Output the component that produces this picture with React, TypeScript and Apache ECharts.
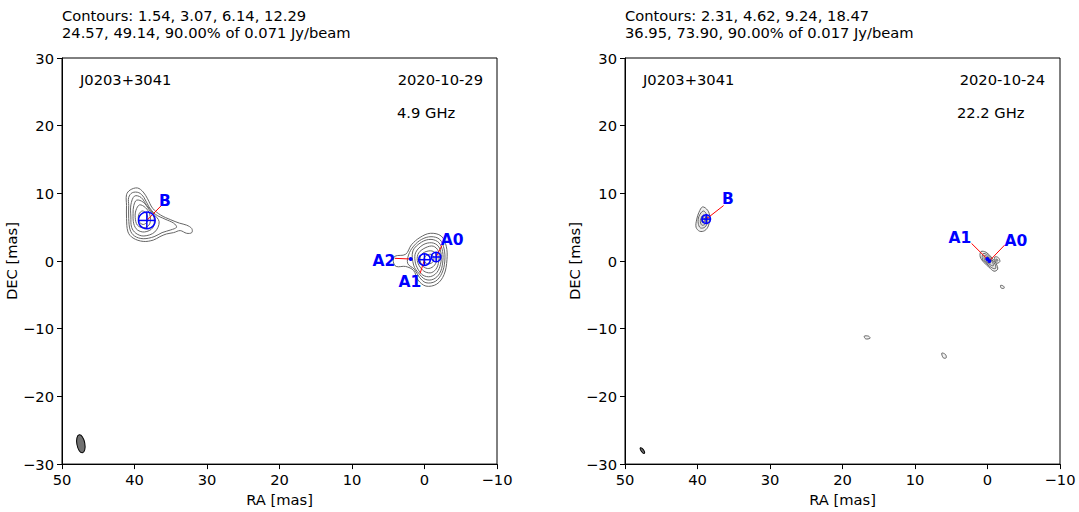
import React, { useEffect, useRef } from 'react';
import * as echarts from 'echarts';

// ---- contour lines (RA, DEC in mas) ----
const leftB1 = [[40.6,10.5],[39.6,10.8],[38.8,10.2],[38.2,9.2],[37.5,7.8],[36.4,6.8],[35.0,6.1],[33.8,5.6],[32.8,5.3],[32.1,4.8],[32.1,4.2],[32.8,4.1],[33.7,4.5],[34.6,4.2],[35.6,4.0],[36.5,3.6],[37.4,3.1],[38.8,2.9],[40.2,3.4],[40.9,4.3],[41.1,6.3],[41.1,8.2],[41.1,9.8]];
const leftB2 = [[40.3,10.1],[39.4,10.1],[38.7,9.4],[38.0,8.0],[37.1,6.9],[35.8,6.2],[34.6,5.6],[34.2,5.0],[35.0,4.6],[36.2,4.2],[37.3,3.6],[38.8,3.3],[40.0,3.7],[40.6,4.6],[40.8,6.3],[40.8,8.2],[40.8,9.4]];
const leftB3 = [[40.0,9.6],[39.1,9.4],[38.3,8.2],[37.4,7.0],[36.6,5.8],[37.2,4.3],[38.7,3.7],[39.8,4.1],[40.4,5.0],[40.5,6.5],[40.5,8.3]];
const leftB4 = [[39.7,9.0],[38.8,8.7],[38.0,7.6],[37.3,6.4],[37.5,4.9],[38.6,4.3],[39.6,4.6],[40.1,5.5],[40.2,7.0],[40.1,8.2]];
const leftB5 = [[39.3,8.3],[38.5,7.9],[37.9,6.9],[37.9,5.5],[38.7,4.9],[39.6,5.3],[39.9,6.4],[39.8,7.5]];
const leftB6 = [[38.9,7.4],[38.3,6.9],[38.2,5.9],[38.8,5.4],[39.4,5.9],[39.4,6.9]];

const leftA1 = [[4.1,0.7],[2.6,1.0],[1.8,2.4],[0.6,3.5],[-0.8,4.1],[-2.3,3.7],[-3.0,2.2],[-3.1,0.2],[-2.7,-2.0],[-1.7,-3.4],[-0.2,-3.7],[0.9,-2.8],[1.5,-1.4],[2.6,-0.8],[3.9,-0.8],[4.3,-0.1]];
const leftA2 = [[2.2,0.9],[1.5,2.2],[0.4,3.2],[-0.9,3.6],[-2.1,3.2],[-2.7,1.8],[-2.8,0.0],[-2.4,-1.8],[-1.5,-3.0],[-0.2,-3.2],[0.7,-2.4],[1.4,-1.2],[2.3,-0.4]];
const leftA3 = [[1.6,1.5],[0.4,2.8],[-0.9,3.2],[-2.0,2.7],[-2.5,1.4],[-2.5,-0.3],[-2.1,-1.8],[-1.2,-2.7],[-0.1,-2.7],[0.8,-1.8],[1.5,-0.6]];
const leftA4 = [[1.2,1.3],[0.2,2.4],[-1.0,2.7],[-1.9,2.2],[-2.3,1.0],[-2.2,-0.5],[-1.7,-1.7],[-0.8,-2.3],[0.2,-2.1],[0.9,-1.2],[1.3,0.0]];
const leftA5 = [[0.8,1.2],[-0.2,2.0],[-1.2,2.2],[-1.9,1.5],[-2.0,0.3],[-1.7,-1.0],[-1.0,-1.7],[-0.1,-1.6],[0.6,-0.9],[1.0,0.1]];
const leftA6 = [[0.4,1.0],[-0.6,1.5],[-1.4,1.3],[-1.7,0.4],[-1.4,-0.6],[-0.6,-1.1],[0.2,-0.8],[0.6,0.1]];
const leftA7 = [[-0.1,0.7],[-0.9,1.0],[-1.3,0.5],[-1.1,-0.2],[-0.4,-0.4],[0.1,0.1]];

const rightB1 = [[39.3,8.0],[38.6,7.5],[38.3,6.5],[38.5,5.2],[39.0,4.5],[39.7,4.4],[40.2,5.0],[40.1,6.2],[39.8,7.2]];
const rightB2 = [[39.2,7.4],[38.7,6.8],[38.6,5.8],[39.0,5.0],[39.6,4.9],[39.9,5.6],[39.8,6.6]];
const rightB3 = [[39.2,6.8],[38.8,6.2],[38.9,5.5],[39.4,5.3],[39.6,6.0]];
const rightB4 = [[39.1,6.4],[39.0,5.9],[39.3,5.7],[39.4,6.1]];
const rightA1 = [[0.9,1.4],[0.2,1.3],[-0.5,0.6],[-1.2,-0.4],[-1.4,-1.2],[-0.9,-1.5],[-0.2,-0.9],[0.5,-0.2],[1.0,0.6]];
const rightA2 = [[0.6,1.1],[0.0,0.9],[-0.6,0.2],[-1.1,-0.6],[-1.1,-1.1],[-0.6,-1.0],[0.1,-0.4],[0.7,0.3]];
const rightA3 = [[0.4,0.8],[-0.2,0.5],[-0.7,-0.2],[-0.8,-0.7],[-0.3,-0.5],[0.4,0.1]];
const rightA4 = [[0.2,0.5],[-0.3,0.1],[-0.4,-0.3],[0.1,-0.1]];
const rightRing1 = [[-1.0,0.6],[-1.5,0.5],[-1.7,-0.1],[-1.2,-0.3]];
const rightRing2 = [[-1.2,0.3],[-1.4,0.2],[-1.4,0.0],[-1.2,0.0]];
const rightSpot1 = [[17.0,-11.1],[16.4,-11.1],[16.2,-11.4],[16.8,-11.5]];
const rightSpot2 = [[6.3,-13.6],[5.8,-13.8],[5.7,-14.3],[6.1,-14.3]];
const rightSpot3 = [[-1.8,-3.6],[-2.2,-3.7],[-2.3,-4.0],[-1.9,-4.0]];

const leftContours = [leftB1, leftB2, leftB3, leftB4, leftB5, leftB6, leftA1, leftA2, leftA3, leftA4, leftA5, leftA6, leftA7];
const rightContours = [rightB1, rightB2, rightB3, rightB4, rightA1, rightA2, rightA3, rightA4, rightRing1, rightRing2, rightSpot1, rightSpot2, rightSpot3];

// ---- model components ----
const leftCompNames = ['B', 'A2', 'A1', 'A0'];
const leftCompPos = [[38.3, 6.0], [1.9, 0.3], [0.0, 0.2], [-1.6, 0.6]];
const leftCompSize = [1.15, 0, 0.8, 0.65];
const leftLabelPos = [[35.8, 8.9], [5.6, 0.0], [2.0, -3.1], [-3.8, 3.1]];
const leftLineStart = [[36.3, 8.2], [4.1, 0.4], [0.6, -1.8], [-2.4, 2.3]];

const rightCompNames = ['B', 'A1', 'A0'];
const rightCompPos = [[38.8, 6.2], [0.03, 0.3], [-0.25, 0.0]];
const rightCompSize = [0.6, 0, 0];
const rightLabelPos = [[35.8, 9.1], [3.8, 3.4], [-3.9, 2.9]];
const rightLineStart = [[36.4, 8.2], [2.2, 2.6], [-2.4, 2.4]];

// ---- beams: [RA, DEC], [minor, major] mas, rotation rad ----
const leftBeam = { pos: [47.4, -27.0], axes: [0.55, 1.35], rot: 0.18 };
const rightBeam = { pos: [47.6, -28.0], axes: [0.18, 0.5], rot: 0.6 };

const titlesLeft = ['Contours: 1.54, 3.07, 6.14, 12.29', '24.57, 49.14, 90.00% of 0.071 Jy/beam'];
const titlesRight = ['Contours: 2.31, 4.62, 9.24, 18.47', '36.95, 73.90, 90.00% of 0.017 Jy/beam'];
const sourceName = 'J0203+3041';
const leftDate = '2020-10-29';
const rightDate = '2020-10-24';
const leftFreq = '4.9 GHz';
const rightFreq = '22.2 GHz';

const FONT = '"DejaVu Sans", sans-serif';
const FS = 14.7;
const gridLeft = [62, 625];

function contourSeries(contours: number[][][], idx: number, fill: string) {
  return {
    type: 'custom',
    xAxisIndex: idx,
    yAxisIndex: idx,
    clip: true,
    data: contours.map((c) => c[0]),
    renderItem: (params: any, api: any) => {
      const pts = contours[params.dataIndex].map((p) => api.coord(p));
      return {
        type: 'polygon',
        shape: { points: pts, smooth: 0.35 },
        style: { fill, stroke: '#666', lineWidth: 1 },
      };
    },
  };
}

function compSeries(names: string[], pos: number[][], size: number[], labelPos: number[][], lineStart: number[][], idx: number) {
  return {
    type: 'custom',
    xAxisIndex: idx,
    yAxisIndex: idx,
    clip: false,
    data: pos,
    renderItem: (params: any, api: any) => {
      const i = params.dataIndex;
      const c = api.coord(pos[i]);
      const s = api.coord(lineStart[i]);
      const l = api.coord(labelPos[i]);
      const r = Math.abs(api.size([size[i], 0])[0]);
      const children: any[] = [
        { type: 'line', shape: { x1: s[0], y1: s[1], x2: c[0], y2: c[1] }, style: { stroke: '#ff0000', lineWidth: 1 } },
      ];
      if (r > 0) {
        children.push(
          { type: 'circle', shape: { cx: c[0], cy: c[1], r }, style: { fill: 'none', stroke: '#0000ff', lineWidth: 1.5 } },
          { type: 'line', shape: { x1: c[0] - r, y1: c[1], x2: c[0] + r, y2: c[1] }, style: { stroke: '#0000ff', lineWidth: 1.5 } },
          { type: 'line', shape: { x1: c[0], y1: c[1] - r, x2: c[0], y2: c[1] + r }, style: { stroke: '#0000ff', lineWidth: 1.5 } },
        );
      } else {
        children.push({ type: 'circle', shape: { cx: c[0], cy: c[1], r: 2 }, style: { fill: '#0000ff' } });
      }
      children.push({
        type: 'text', x: l[0], y: l[1],
        style: { text: names[i], fill: '#0000ff', font: `bold 15.5px ${FONT}`, align: 'center', verticalAlign: 'middle' },
      });
      return { type: 'group', children };
    },
  };
}

function beamSeries(beam: any, idx: number) {
  return {
    type: 'custom',
    xAxisIndex: idx,
    yAxisIndex: idx,
    data: [beam.pos],
    renderItem: (params: any, api: any) => {
      const c = api.coord(beam.pos);
      const rx = Math.abs(api.size([beam.axes[0], 0])[0]);
      const ry = Math.abs(api.size([0, beam.axes[1]])[1]);
      return {
        type: 'ellipse', x: c[0], y: c[1], rotation: beam.rot,
        shape: { cx: 0, cy: 0, rx, ry },
        style: { fill: '#707070', stroke: '#000', lineWidth: 1 },
      };
    },
  };
}

const fmt = (v: number) => (v < 0 ? '\u2212' + -v : String(v));

function xAxis(idx: number) {
  return {
    gridIndex: idx, type: 'value', min: -10, max: 50, interval: 10, inverse: true,
    axisLine: { show: true, onZero: false, lineStyle: { color: '#000', width: 1 } },
    axisTick: { show: true, length: 5, lineStyle: { color: '#000' } },
    axisLabel: { color: '#000', fontSize: FS, fontFamily: FONT, margin: 8, formatter: fmt },
    splitLine: { show: false },
    name: 'RA [mas]', nameLocation: 'middle', nameGap: 21,
    nameTextStyle: { color: '#000', fontSize: FS, fontFamily: FONT },
  };
}
function yAxis(idx: number) {
  return {
    gridIndex: idx, type: 'value', min: -30, max: 30, interval: 10,
    axisLine: { show: true, onZero: false, lineStyle: { color: '#000', width: 1 } },
    axisTick: { show: true, length: 5, lineStyle: { color: '#000' } },
    axisLabel: { color: '#000', fontSize: FS, fontFamily: FONT, margin: 8, formatter: fmt },
    splitLine: { show: false },
    name: 'DEC [mas]', nameLocation: 'middle', nameGap: 31,
    nameTextStyle: { color: '#000', fontSize: FS, fontFamily: FONT },
  };
}

function txt(text: string, x: number, y: number, align = 'left') {
  return { type: 'text', x, y, style: { text, fill: '#000', font: `${FS}px ${FONT}`, align, verticalAlign: 'middle' } };
}

export default function App() {
  const ref = useRef<HTMLDivElement>(null);
  useEffect(() => {
    const chart = echarts.init(ref.current!, null, { renderer: 'svg' });
    const option: any = {
      animation: false,
      backgroundColor: '#fff',
      grid: gridLeft.map((l) => ({ left: l, top: 58, width: 435, height: 410, show: true, borderColor: '#000', borderWidth: 1, backgroundColor: 'transparent' })),
      xAxis: [xAxis(0), xAxis(1)],
      yAxis: [yAxis(0), yAxis(1)],
      series: [
        contourSeries(leftContours, 0, 'none'),
        contourSeries(rightContours, 1, 'rgba(160,160,160,0.15)'),
        beamSeries(leftBeam, 0),
        beamSeries(rightBeam, 1),
        compSeries(leftCompNames, leftCompPos, leftCompSize, leftLabelPos, leftLineStart, 0),
        compSeries(rightCompNames, rightCompPos, rightCompSize, rightLabelPos, rightLineStart, 1),
      ],
      graphic: [
        txt(titlesLeft[0], 62, 15), txt(titlesLeft[1], 62, 32),
        txt(titlesRight[0], 625, 15), txt(titlesRight[1], 625, 32),
        txt(sourceName, 80, 79), txt(leftDate, 483, 79, 'right'), txt(leftFreq, 397, 112),
        txt(sourceName, 643, 79), txt(rightDate, 1045, 79, 'right'), txt(rightFreq, 957, 112),
      ],
    };
    chart.setOption(option);
    return () => chart.dispose();
  }, []);
  return <div ref={ref} style={{ position: 'fixed', left: 0, top: 0, width: 1079, height: 512, background: '#fff' }} />;
}
